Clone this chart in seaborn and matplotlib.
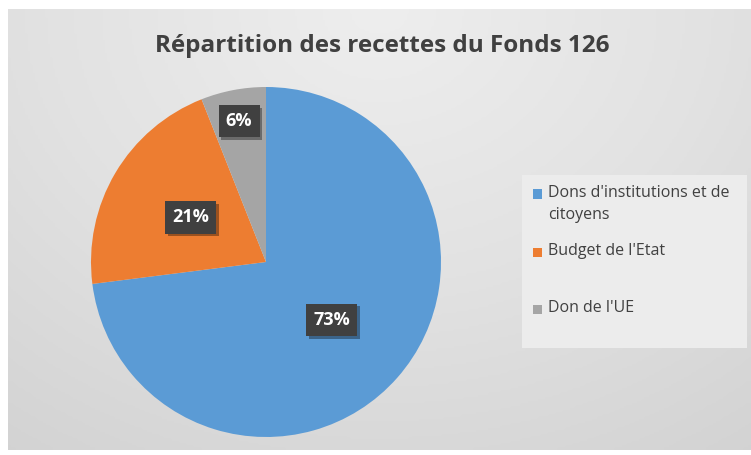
import numpy as np
import seaborn as sns
import matplotlib.pyplot as plt
import matplotlib.patheffects as pe
from matplotlib.patches import Rectangle
from matplotlib.colors import LinearSegmentedColormap

sns.set_theme(style='white')
plt.rcParams['font.family'] = ['Open Sans', 'DejaVu Sans']

# Data
labels = ["Dons d'institutions et de\ncitoyens", "Budget de l'Etat", "Don de l'UE"]
shares = [73, 21, 6]
colors = ['#5b9bd5', '#ed7d31', '#a5a5a5']
title = 'Répartition des recettes du Fonds 126'

W, H = 751, 455
fig = plt.figure(figsize=(W / 100, H / 100), dpi=100, facecolor='white')

# Background with soft radial gradient
bg = fig.add_axes([8 / W, 5 / H, 743 / W, 441 / H])
gx, gy = np.meshgrid(np.linspace(-1, 1, 300), np.linspace(0, 1.6, 200))
dist = np.sqrt(gx ** 2 + (gy * 0.9) ** 2)
cmap = LinearSegmentedColormap.from_list('bg', ['#eeeeee', '#e2e2e2', '#d2d2d2'])
bg.imshow(dist, cmap=cmap, aspect='auto', extent=[0, 1, 0, 1], vmin=0, vmax=1.8)
bg.set_axis_off()

# Pie
ax = fig.add_axes([91 / W, 18 / H, 350 / W, 350 / H])
wedges, texts, autotexts = ax.pie(
    shares, colors=colors, startangle=90, counterclock=False,
    autopct='%1.0f%%', pctdistance=0.5, radius=1,
    wedgeprops=dict(linewidth=0),
    textprops=dict(color='white', fontsize=13, fontweight='bold'),
)
ax.set_xlim(-1, 1)
ax.set_ylim(-1, 1)
ax.set_aspect('equal')
ax.set_axis_off()

# Small slice label sits further out
w = wedges[2]
mid = np.deg2rad((w.theta1 + w.theta2) / 2)
autotexts[2].set_position((0.82 * np.cos(mid), 0.82 * np.sin(mid)))

for t in autotexts:
    t.set_bbox(dict(boxstyle='square,pad=0.4', fc='#404040', ec='none'))
    t.get_bbox_patch().set_path_effects([
        pe.SimplePatchShadow(offset=(2, -2), shadow_rgbFace='black', alpha=0.35),
        pe.Normal(),
    ])

# Title
fig.text(382 / W, 1 - 46 / H, title, ha='center', va='center',
         fontsize=17.5, fontweight='bold', color='#404040')

# Legend (drawn by hand to match the uneven slot spacing)
fig.patches.append(Rectangle((522 / W, 1 - 348 / H), 225 / W, 173 / H,
                             transform=fig.transFigure, facecolor='#ececec',
                             edgecolor='none', zorder=1))
first_line_y = [194, 252, 309]
for lab, col, yy in zip(labels, colors, first_line_y):
    fig.patches.append(Rectangle((533 / W, 1 - (yy + 4.5) / H), 9 / W, 9 / H,
                                 transform=fig.transFigure, facecolor=col,
                                 edgecolor='none', zorder=2))
    fig.text(548 / W, 1 - (yy - 9) / H, lab, ha='left', va='top',
             fontsize=11.5, color='#404040', linespacing=1.5, zorder=3)

fig.savefig('out.png', dpi=100, facecolor='white')
